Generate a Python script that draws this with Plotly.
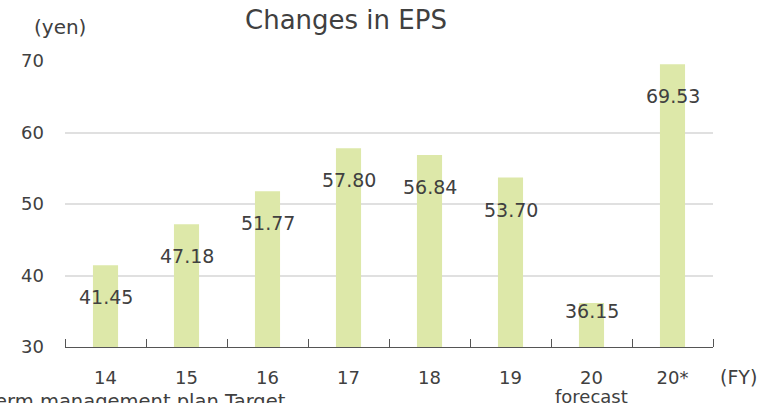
import plotly.graph_objects as go

categories = ["14", "15", "16", "17", "18", "19", "20", "20*"]
tick_labels = ["14", "15", "16", "17", "18", "19", "20", "20*"]
sub_labels = ["", "", "", "", "", "", "forecast", ""]
eps_values = [41.45, 47.18, 51.77, 57.80, 56.84, 53.70, 36.15, 69.53]

W, H = 760, 403
L, R, T, B = 65, 47, 61, 56
YMIN, YMAX = 30, 70
plot_h = H - T - B
px_per_unit = plot_h / (YMAX - YMIN)

font_fam = "DejaVu Sans"
txt_col = "#404040"

fig = go.Figure()
fig.add_trace(go.Bar(
    x=list(range(len(categories))), y=eps_values, width=0.31,
    marker=dict(color="#dde8a9", line=dict(width=0)),
    hoverinfo="skip",
))

def px_x(p):
    return (p - L) / (W - L - R)

def px_y(p):
    return (H - B - p) / plot_h

annotations = []
for i, v in enumerate(eps_values):
    bar_h_px = (v - YMIN) * px_per_unit
    shift = -min(32, bar_h_px - 36)
    annotations.append(dict(
        x=i, y=v, xref="x", yref="y", text=f"{v:.2f}", showarrow=False,
        xanchor="center", yanchor="middle",
        yshift=shift, font=dict(family=font_fam, size=19, color=txt_col),
    ))
for i, s in enumerate(sub_labels):
    if s:
        annotations.append(dict(
            x=i, y=px_y(396), xref="x", yref="paper", text=s, showarrow=False,
            xanchor="center", yanchor="middle",
            font=dict(family=font_fam, size=18, color=txt_col),
        ))

def label(px, py, text, size, xanchor="center"):
    return dict(x=px_x(px), y=px_y(py), xref="paper", yref="paper", text=text,
                showarrow=False, xanchor=xanchor, yanchor="middle",
                font=dict(family=font_fam, size=size, color=txt_col))

annotations += [
    label(346, 20, "Changes in EPS", 26),
    label(60, 27, "(yen)", 20),
    label(738, 377, "(FY)", 19),
    label(288, 401, "*Mid-term management plan Target", 19.5, xanchor="right"),
]

fig.update_layout(
    width=W, height=H,
    margin=dict(l=L, r=R, t=T, b=B, pad=0),
    paper_bgcolor="white", plot_bgcolor="white",
    showlegend=False,
    annotations=annotations,
    font=dict(family=font_fam, size=18, color=txt_col),
)
fig.update_xaxes(
    range=[-0.5, len(categories) - 0.5],
    tickvals=list(range(len(categories))), ticktext=tick_labels, tickangle=0,
    showline=True, linecolor="#555555", linewidth=1,
    ticks="", showgrid=False, automargin=False,
    tickfont=dict(size=18, color=txt_col), ticklabelstandoff=14,
    minor=dict(tickvals=[i - 0.5 for i in range(len(categories) + 1)],
               ticks="inside", ticklen=8, tickcolor="#555555", showgrid=False),
)
fig.update_yaxes(
    range=[YMIN, YMAX], tickvals=[30, 40, 50, 60, 70],
    showgrid=True, gridcolor="#e0e0e0", gridwidth=1.5, zeroline=False,
    showline=False, ticks="", automargin=False,
    tickfont=dict(size=18, color=txt_col), ticklabelstandoff=20,
)

fig.write_html(
    "out.html",
    config={"displayModeBar": False},
    post_script="document.body.style.margin='0';document.body.style.overflow='hidden';",
)
